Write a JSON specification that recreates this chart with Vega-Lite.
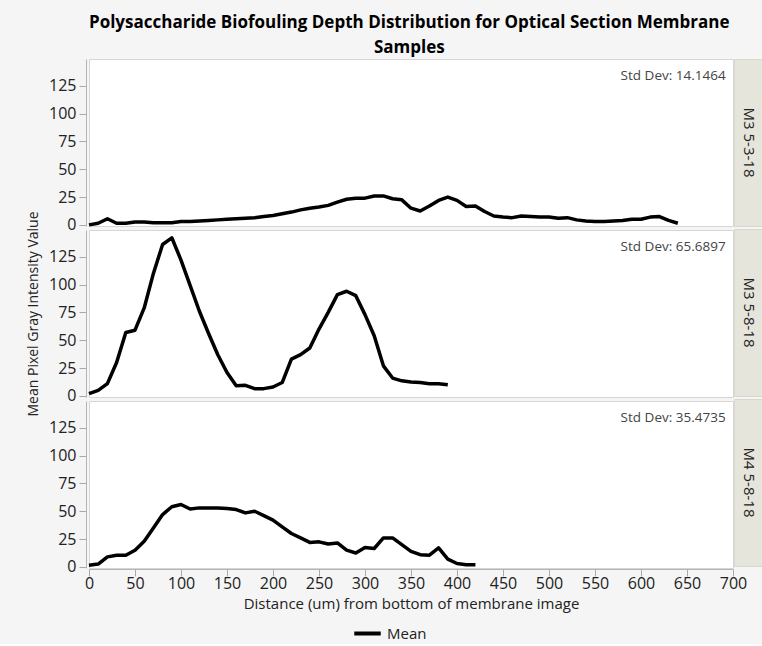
{
  "$schema": "https://vega.github.io/schema/vega-lite/v6.json",
  "background": "#f5f5f5",
  "padding": {"left": 26, "top": 13, "right": 0, "bottom": 2},
  "title": {
    "text": ["Polysaccharide Biofouling Depth Distribution for Optical Section Membrane", "Samples"],
    "font": "Open Sans",
    "fontSize": 17,
    "fontWeight": "bold",
    "color": "#000000",
    "anchor": "middle",
    "lineHeight": 25,
    "offset": 2,
    "dx": 14
  },
  "datasets": {
    "profiles": [
      {"sample": "M3 5-3-18", "distance": 0, "intensity": 0},
      {"sample": "M3 5-3-18", "distance": 10, "intensity": 1.5},
      {"sample": "M3 5-3-18", "distance": 20, "intensity": 5.5},
      {"sample": "M3 5-3-18", "distance": 30, "intensity": 1.5},
      {"sample": "M3 5-3-18", "distance": 40, "intensity": 1.5},
      {"sample": "M3 5-3-18", "distance": 50, "intensity": 2.5},
      {"sample": "M3 5-3-18", "distance": 60, "intensity": 2.5},
      {"sample": "M3 5-3-18", "distance": 70, "intensity": 2},
      {"sample": "M3 5-3-18", "distance": 80, "intensity": 2},
      {"sample": "M3 5-3-18", "distance": 90, "intensity": 2},
      {"sample": "M3 5-3-18", "distance": 100, "intensity": 3},
      {"sample": "M3 5-3-18", "distance": 110, "intensity": 3},
      {"sample": "M3 5-3-18", "distance": 120, "intensity": 3.5},
      {"sample": "M3 5-3-18", "distance": 130, "intensity": 4},
      {"sample": "M3 5-3-18", "distance": 140, "intensity": 4.5},
      {"sample": "M3 5-3-18", "distance": 150, "intensity": 5},
      {"sample": "M3 5-3-18", "distance": 160, "intensity": 5.5},
      {"sample": "M3 5-3-18", "distance": 170, "intensity": 6},
      {"sample": "M3 5-3-18", "distance": 180, "intensity": 6.5},
      {"sample": "M3 5-3-18", "distance": 190, "intensity": 7.5},
      {"sample": "M3 5-3-18", "distance": 200, "intensity": 8.5},
      {"sample": "M3 5-3-18", "distance": 210, "intensity": 10},
      {"sample": "M3 5-3-18", "distance": 220, "intensity": 11.5},
      {"sample": "M3 5-3-18", "distance": 230, "intensity": 13.5},
      {"sample": "M3 5-3-18", "distance": 240, "intensity": 15},
      {"sample": "M3 5-3-18", "distance": 250, "intensity": 16},
      {"sample": "M3 5-3-18", "distance": 260, "intensity": 17.5},
      {"sample": "M3 5-3-18", "distance": 270, "intensity": 20.5},
      {"sample": "M3 5-3-18", "distance": 280, "intensity": 23},
      {"sample": "M3 5-3-18", "distance": 290, "intensity": 24},
      {"sample": "M3 5-3-18", "distance": 300, "intensity": 24},
      {"sample": "M3 5-3-18", "distance": 310, "intensity": 26},
      {"sample": "M3 5-3-18", "distance": 320, "intensity": 26},
      {"sample": "M3 5-3-18", "distance": 330, "intensity": 23.5},
      {"sample": "M3 5-3-18", "distance": 340, "intensity": 22.5},
      {"sample": "M3 5-3-18", "distance": 350, "intensity": 15},
      {"sample": "M3 5-3-18", "distance": 360, "intensity": 12.5},
      {"sample": "M3 5-3-18", "distance": 370, "intensity": 17},
      {"sample": "M3 5-3-18", "distance": 380, "intensity": 22},
      {"sample": "M3 5-3-18", "distance": 390, "intensity": 25},
      {"sample": "M3 5-3-18", "distance": 400, "intensity": 22},
      {"sample": "M3 5-3-18", "distance": 410, "intensity": 16.5},
      {"sample": "M3 5-3-18", "distance": 420, "intensity": 17},
      {"sample": "M3 5-3-18", "distance": 430, "intensity": 12},
      {"sample": "M3 5-3-18", "distance": 440, "intensity": 8},
      {"sample": "M3 5-3-18", "distance": 450, "intensity": 7},
      {"sample": "M3 5-3-18", "distance": 460, "intensity": 6.5},
      {"sample": "M3 5-3-18", "distance": 470, "intensity": 8},
      {"sample": "M3 5-3-18", "distance": 480, "intensity": 7.5},
      {"sample": "M3 5-3-18", "distance": 490, "intensity": 7},
      {"sample": "M3 5-3-18", "distance": 500, "intensity": 7},
      {"sample": "M3 5-3-18", "distance": 510, "intensity": 6},
      {"sample": "M3 5-3-18", "distance": 520, "intensity": 6.5},
      {"sample": "M3 5-3-18", "distance": 530, "intensity": 4.5},
      {"sample": "M3 5-3-18", "distance": 540, "intensity": 3.5},
      {"sample": "M3 5-3-18", "distance": 550, "intensity": 3},
      {"sample": "M3 5-3-18", "distance": 560, "intensity": 3},
      {"sample": "M3 5-3-18", "distance": 570, "intensity": 3.5},
      {"sample": "M3 5-3-18", "distance": 580, "intensity": 4},
      {"sample": "M3 5-3-18", "distance": 590, "intensity": 5},
      {"sample": "M3 5-3-18", "distance": 600, "intensity": 5},
      {"sample": "M3 5-3-18", "distance": 610, "intensity": 7},
      {"sample": "M3 5-3-18", "distance": 620, "intensity": 7.5},
      {"sample": "M3 5-3-18", "distance": 630, "intensity": 4},
      {"sample": "M3 5-3-18", "distance": 640, "intensity": 1.5},
      {"sample": "M3 5-8-18", "distance": 0, "intensity": 2},
      {"sample": "M3 5-8-18", "distance": 10, "intensity": 5},
      {"sample": "M3 5-8-18", "distance": 20, "intensity": 11},
      {"sample": "M3 5-8-18", "distance": 30, "intensity": 30},
      {"sample": "M3 5-8-18", "distance": 40, "intensity": 57},
      {"sample": "M3 5-8-18", "distance": 50, "intensity": 59},
      {"sample": "M3 5-8-18", "distance": 60, "intensity": 79},
      {"sample": "M3 5-8-18", "distance": 70, "intensity": 110},
      {"sample": "M3 5-8-18", "distance": 80, "intensity": 136},
      {"sample": "M3 5-8-18", "distance": 90, "intensity": 142},
      {"sample": "M3 5-8-18", "distance": 100, "intensity": 122},
      {"sample": "M3 5-8-18", "distance": 110, "intensity": 99},
      {"sample": "M3 5-8-18", "distance": 120, "intensity": 76},
      {"sample": "M3 5-8-18", "distance": 130, "intensity": 56},
      {"sample": "M3 5-8-18", "distance": 140, "intensity": 37},
      {"sample": "M3 5-8-18", "distance": 150, "intensity": 21},
      {"sample": "M3 5-8-18", "distance": 160, "intensity": 9},
      {"sample": "M3 5-8-18", "distance": 170, "intensity": 9.5},
      {"sample": "M3 5-8-18", "distance": 180, "intensity": 6.5},
      {"sample": "M3 5-8-18", "distance": 190, "intensity": 6.5},
      {"sample": "M3 5-8-18", "distance": 200, "intensity": 8},
      {"sample": "M3 5-8-18", "distance": 210, "intensity": 12},
      {"sample": "M3 5-8-18", "distance": 220, "intensity": 33},
      {"sample": "M3 5-8-18", "distance": 230, "intensity": 37},
      {"sample": "M3 5-8-18", "distance": 240, "intensity": 43},
      {"sample": "M3 5-8-18", "distance": 250, "intensity": 60},
      {"sample": "M3 5-8-18", "distance": 260, "intensity": 75},
      {"sample": "M3 5-8-18", "distance": 270, "intensity": 91},
      {"sample": "M3 5-8-18", "distance": 280, "intensity": 94},
      {"sample": "M3 5-8-18", "distance": 290, "intensity": 90},
      {"sample": "M3 5-8-18", "distance": 300, "intensity": 73},
      {"sample": "M3 5-8-18", "distance": 310, "intensity": 54},
      {"sample": "M3 5-8-18", "distance": 320, "intensity": 27},
      {"sample": "M3 5-8-18", "distance": 330, "intensity": 16},
      {"sample": "M3 5-8-18", "distance": 340, "intensity": 13.5},
      {"sample": "M3 5-8-18", "distance": 350, "intensity": 12.5},
      {"sample": "M3 5-8-18", "distance": 360, "intensity": 12},
      {"sample": "M3 5-8-18", "distance": 370, "intensity": 11},
      {"sample": "M3 5-8-18", "distance": 380, "intensity": 11},
      {"sample": "M3 5-8-18", "distance": 390, "intensity": 10},
      {"sample": "M4 5-8-18", "distance": 0, "intensity": 1.5},
      {"sample": "M4 5-8-18", "distance": 10, "intensity": 2.5},
      {"sample": "M4 5-8-18", "distance": 20, "intensity": 9},
      {"sample": "M4 5-8-18", "distance": 30, "intensity": 10.5},
      {"sample": "M4 5-8-18", "distance": 40, "intensity": 10.5},
      {"sample": "M4 5-8-18", "distance": 50, "intensity": 15},
      {"sample": "M4 5-8-18", "distance": 60, "intensity": 23},
      {"sample": "M4 5-8-18", "distance": 70, "intensity": 35},
      {"sample": "M4 5-8-18", "distance": 80, "intensity": 47},
      {"sample": "M4 5-8-18", "distance": 90, "intensity": 54},
      {"sample": "M4 5-8-18", "distance": 100, "intensity": 56},
      {"sample": "M4 5-8-18", "distance": 110, "intensity": 52},
      {"sample": "M4 5-8-18", "distance": 120, "intensity": 53},
      {"sample": "M4 5-8-18", "distance": 130, "intensity": 53},
      {"sample": "M4 5-8-18", "distance": 140, "intensity": 53},
      {"sample": "M4 5-8-18", "distance": 150, "intensity": 52.5},
      {"sample": "M4 5-8-18", "distance": 160, "intensity": 51.5},
      {"sample": "M4 5-8-18", "distance": 170, "intensity": 48.5},
      {"sample": "M4 5-8-18", "distance": 180, "intensity": 50},
      {"sample": "M4 5-8-18", "distance": 190, "intensity": 46},
      {"sample": "M4 5-8-18", "distance": 200, "intensity": 42},
      {"sample": "M4 5-8-18", "distance": 210, "intensity": 36},
      {"sample": "M4 5-8-18", "distance": 220, "intensity": 30},
      {"sample": "M4 5-8-18", "distance": 230, "intensity": 26},
      {"sample": "M4 5-8-18", "distance": 240, "intensity": 22},
      {"sample": "M4 5-8-18", "distance": 250, "intensity": 22.5},
      {"sample": "M4 5-8-18", "distance": 260, "intensity": 20.5},
      {"sample": "M4 5-8-18", "distance": 270, "intensity": 21.5},
      {"sample": "M4 5-8-18", "distance": 280, "intensity": 15},
      {"sample": "M4 5-8-18", "distance": 290, "intensity": 12.5},
      {"sample": "M4 5-8-18", "distance": 300, "intensity": 17.5},
      {"sample": "M4 5-8-18", "distance": 310, "intensity": 16.5},
      {"sample": "M4 5-8-18", "distance": 320, "intensity": 26},
      {"sample": "M4 5-8-18", "distance": 330, "intensity": 26},
      {"sample": "M4 5-8-18", "distance": 340, "intensity": 20},
      {"sample": "M4 5-8-18", "distance": 350, "intensity": 14},
      {"sample": "M4 5-8-18", "distance": 360, "intensity": 11},
      {"sample": "M4 5-8-18", "distance": 370, "intensity": 10.5},
      {"sample": "M4 5-8-18", "distance": 380, "intensity": 17},
      {"sample": "M4 5-8-18", "distance": 390, "intensity": 7},
      {"sample": "M4 5-8-18", "distance": 400, "intensity": 3},
      {"sample": "M4 5-8-18", "distance": 410, "intensity": 2},
      {"sample": "M4 5-8-18", "distance": 420, "intensity": 2},
      {"sample": "M3 5-3-18", "stat": "Std Dev: 14.1464"},
      {"sample": "M3 5-8-18", "stat": "Std Dev: 65.6897"},
      {"sample": "M4 5-8-18", "stat": "Std Dev: 35.4735"}
    ],
    "samples": [
      {"sample": "M3 5-3-18"},
      {"sample": "M3 5-8-18"},
      {"sample": "M4 5-8-18"}
    ]
  },
  "bounds": "flush",
  "hconcat": [
    {
      "data": {"name": "profiles"},
      "facet": {
        "row": {
          "field": "sample", "type": "nominal",
          "header": {"labels": false, "title": "Mean Pixel Gray Intensity Value", "titleOrient": "left", "titleFont": "Open Sans", "titleFontSize": 14, "titleFontWeight": "normal", "titleColor": "#222222", "titlePadding": -3}
        }
      },
      "spacing": 1,
      "spec": {
        "width": 644,
        "height": 167,
        "view": {"fill": "white", "stroke": "#d6d6d6"},
        "layer": [
          {
            "transform": [{"filter": "isValid(datum.intensity)"}],
            "mark": {"type": "line", "strokeWidth": 3.5, "strokeJoin": "round"},
            "encoding": {
              "x": {
                "field": "distance", "type": "quantitative",
                "scale": {"domain": [0, 700], "nice": false},
                "axis": {"values": [0, 50, 100, 150, 200, 250, 300, 350, 400, 450, 500, 550, 600, 650, 700], "title": "Distance (um) from bottom of membrane image", "titlePadding": 5, "labelPadding": -1, "labelFlush": false, "labelOverlap": false, "titleFontSize": 15}
              },
              "y": {
                "field": "intensity", "type": "quantitative",
                "scale": {"domain": [-1, 149], "nice": false, "zero": false},
                "axis": {"values": [0, 25, 50, 75, 100, 125], "title": null, "labelFlush": false, "labelOverlap": false}
              },
              "color": {"datum": "Mean", "type": "nominal", "scale": {"range": ["#000000"]}, "legend": {"title": null, "orient": "none", "legendX": 263, "legendY": 559, "symbolType": "stroke", "symbolStrokeWidth": 4, "symbolSize": 700, "labelFontSize": 15, "labelFont": "Open Sans", "labelColor": "#222222"}}
            }
          },
          {
            "transform": [{"filter": "isValid(datum.stat)"}],
            "mark": {"type": "text", "align": "right", "baseline": "middle", "font": "Open Sans", "fontSize": 13.5, "color": "#444444"},
            "encoding": {
              "x": {
                "datum": 692, "type": "quantitative",
                "scale": {"domain": [0, 700], "nice": false},
                "axis": {"values": [0, 50, 100, 150, 200, 250, 300, 350, 400, 450, 500, 550, 600, 650, 700], "title": "Distance (um) from bottom of membrane image", "titlePadding": 5, "labelPadding": -1, "labelFlush": false, "labelOverlap": false, "titleFontSize": 15}
              },
              "y": {
                "datum": 133.3, "type": "quantitative",
                "scale": {"domain": [-1, 149], "nice": false, "zero": false},
                "axis": {"values": [0, 25, 50, 75, 100, 125], "title": null, "labelFlush": false, "labelOverlap": false}
              },
              "text": {"field": "stat"}
            }
          }
        ]
      }
    },
    {
      "data": {"name": "samples"},
      "facet": {
        "row": {"field": "sample", "type": "nominal", "header": {"labels": false, "title": null}}
      },
      "spacing": 1,
      "spec": {
        "width": 29,
        "height": 167,
        "view": {"fill": "#e6e5dc", "stroke": "#d9d8cf"},
        "mark": {"type": "text", "angle": 90, "font": "Open Sans", "fontSize": 15, "color": "#222222", "baseline": "middle", "align": "center"},
        "encoding": {
          "text": {"field": "sample"}
        }
      }
    }
  ],
  "spacing": 645,
  "config": {
    "axis": {
      "labelFont": "Open Sans",
      "labelFontSize": 16,
      "labelColor": "#222222",
      "titleFont": "Open Sans",
      "titleFontSize": 14,
      "titleFontWeight": "normal",
      "titleColor": "#222222",
      "domainColor": "#b4b4b4",
      "tickColor": "#a8a8a8",
      "tickSize": 7,
      "labelPadding": 3,
      "grid": false
    }
  }
}
